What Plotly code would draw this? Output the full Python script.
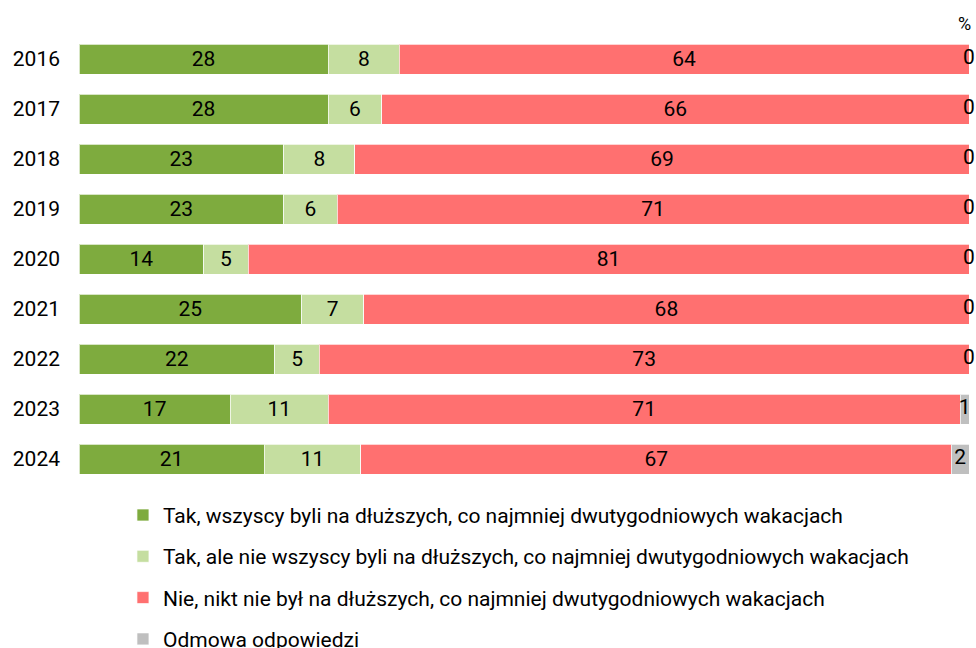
import plotly.graph_objects as go

years = ["2016", "2017", "2018", "2019", "2020", "2021", "2022", "2023", "2024"]
series_names = [
    "Tak, wszyscy byli na dłuższych, co najmniej dwutygodniowych wakacjach",
    "Tak, ale nie wszyscy byli na dłuższych, co najmniej dwutygodniowych wakacjach",
    "Nie, nikt nie był na dłuższych, co najmniej dwutygodniowych wakacjach",
    "Odmowa odpowiedzi",
]
tak_wszyscy = [28, 28, 23, 23, 14, 25, 22, 17, 21]
tak_nie_wszyscy = [8, 6, 8, 6, 5, 7, 5, 11, 11]
nie = [64, 66, 69, 71, 81, 68, 73, 71, 67]
odmowa = [0, 0, 0, 0, 0, 0, 0, 1, 2]
colors = ["#7EAB3E", "#C5DEA0", "#FF7070", "#BFBFBF"]

FONT = "Roboto, Noto Sans, sans-serif"
FS = 21
all_series = [tak_wszyscy, tak_nie_wszyscy, nie, odmowa]
# each bar spans the full width (rounded shares may not sum to exactly 100)
totals = [sum(t) for t in zip(*all_series)]

fig = go.Figure()
for i, (name, vals, col) in enumerate(zip(series_names, all_series, colors)):
    fig.add_trace(go.Bar(
        y=years, x=[v / t * 100 for v, t in zip(vals, totals)], name=name,
        orientation="h",
        marker=dict(color=col, line=dict(color="rgba(255,255,255,0.7)", width=1)),
        text=[str(v) for v in vals] if i < 3 else None,
        textposition="inside" if i < 3 else "none",
        insidetextanchor="middle",
        textfont=dict(family=FONT, size=FS, color="#000000"),
        legendgroup=f"g{i}",
        customdata=vals,
        hovertemplate="%{y}: %{customdata}%<extra>" + name + "</extra>",
    ))

# labels for the refusal series (may be wider than the bar itself)
base = [a + b + c for a, b, c in zip(tak_wszyscy, tak_nie_wszyscy, nie)]
fig.add_trace(go.Scatter(
    y=years, x=[(b + v / 2) / t * 100 for b, v, t in zip(base, odmowa, totals)],
    mode="text", text=[str(v) for v in odmowa],
    textfont=dict(family=FONT, size=FS, color="#000000"),
    showlegend=False, hoverinfo="skip", cliponaxis=False,
))

fig.update_layout(
    width=976, height=648,
    barmode="stack", bargap=0.4,
    paper_bgcolor="white", plot_bgcolor="white",
    margin=dict(l=79, r=7, t=34, b=164, autoexpand=False),
    font=dict(family=FONT, size=FS, color="#000000"),
    xaxis=dict(range=[0, 100], visible=False, fixedrange=True, automargin=False),
    yaxis=dict(autorange="reversed", showgrid=False, zeroline=False, showline=False,
               automargin=False,
               ticks="", ticklabelstandoff=18, tickfont=dict(family=FONT, size=FS)),
    legend=dict(x=0.0494, xanchor="left", y=-0.0241, yanchor="top",
                traceorder="grouped", tracegroupgap=11,
                font=dict(family=FONT, size=FS), itemwidth=30),
    uniformtext=dict(minsize=12, mode="show"),
    annotations=[dict(text="%", xref="paper", yref="paper", x=1.0, y=1.0,
                      xanchor="right", yanchor="bottom", xshift=4, yshift=-2,
                      showarrow=False, font=dict(family=FONT, size=18))],
)

fig.write_html("out.html", config={"displayModeBar": False},
               post_script="document.body.style.margin='0';")
